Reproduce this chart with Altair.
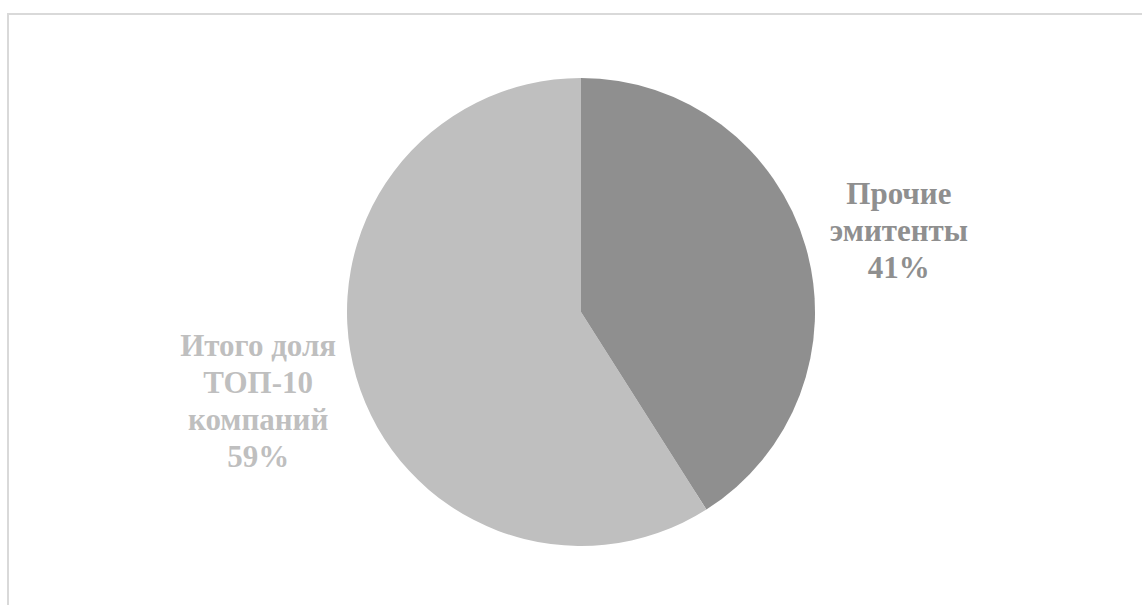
import altair as alt
import pandas as pd
import math

categories = ["Прочие эмитенты", "Итого доля ТОП-10 компаний"]
labels = ["Прочие\nэмитенты\n41%", "Итого доля\nТОП-10\nкомпаний\n59%"]
values = [41, 59]
order = [0, 1]
colors = ["#8f8f8f", "#bfbfbf"]

df = pd.DataFrame({"cat": categories, "label": labels, "value": values, "order": order})

CX, CY, R = 581, 312, 234

theta = alt.Theta("value:Q", stack=True)
color = alt.Color("cat:N", scale=alt.Scale(domain=categories, range=colors), legend=None)

frame = alt.Chart(pd.DataFrame({"a": [0]})).mark_rect(
    fill="white", stroke="#d9d9d9", strokeWidth=2
).encode(x=alt.value(8), y=alt.value(14), x2=alt.value(1160), y2=alt.value(700))

shadow_r = [R + k for k in range(12, 0, -1)]
shadow_df = pd.DataFrame({"s": [math.pi * r * r for r in shadow_r]})
shadow = alt.Chart(shadow_df).mark_circle(fill="black", opacity=0.012, stroke=None).encode(
    size=alt.Size("s:Q", scale=None, legend=None),
    x=alt.value(CX), y=alt.value(CY + 2),
)

pie = alt.Chart(df).mark_arc(radius=R).encode(
    theta=theta, color=color, order=alt.Order("order:Q"),
    x=alt.value(CX), y=alt.value(CY),
)

def label_layer(idx, dx, dy):
    return alt.Chart(df).mark_text(
        radius=331, font="Liberation Serif", fontWeight="bold", fontSize=31,
        lineBreak="\n", lineHeight=37, align="center", baseline="middle",
        dx=dx, dy=dy,
    ).encode(
        theta=theta, text="label:N", order=alt.Order("order:Q"),
        color=color,
        opacity=alt.condition(alt.datum.order == idx, alt.value(1), alt.value(0)),
        x=alt.value(CX), y=alt.value(CY),
    )

text1 = label_layer(0, 0, -25)
text2 = label_layer(1, -5, -57)

chart = alt.layer(frame, shadow, pie, text1, text2).properties(
    width=1142, height=605, padding=0, autosize="none", background="white"
).configure_view(stroke=None)

chart.save("out.html", embed_options={"renderer": "svg", "actions": False})
